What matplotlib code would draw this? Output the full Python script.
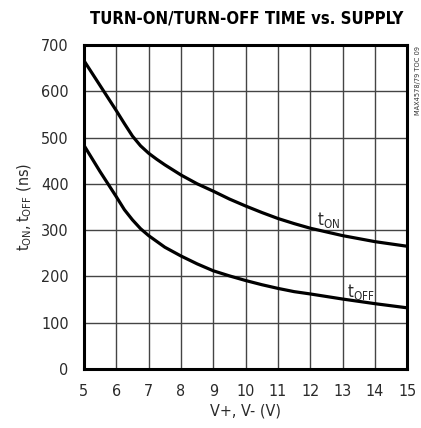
import matplotlib
matplotlib.use("Agg")
from matplotlib import pyplot as plt

plt.rcParams['font.family'] = ['DejaVu Sans']
plt.rcParams['font.stretch'] = 'condensed'
plt.rcParams['mathtext.fontset'] = 'custom'
plt.rcParams['mathtext.rm'] = 'DejaVu Sans:stretch=condensed'

# supply voltage (V)
supply = [5, 5.5, 6, 6.25, 6.5, 6.75, 7, 7.25, 7.5, 8, 8.5, 9, 9.5, 10, 10.5, 11, 11.5, 12, 13, 14, 15]
# turn-on time (ns)
t_on = [666, 612, 558, 530, 503, 482, 466, 453, 441, 419, 400, 384, 367, 352, 338, 325, 314, 304, 288, 275, 265]
# supply voltage (V) for turn-off curve
supply_off = [5, 5.5, 6, 6.25, 6.5, 6.75, 7, 7.5, 8, 8.5, 9, 9.5, 10, 10.5, 11, 11.5, 12, 13, 14, 15]
# turn-off time (ns)
t_off = [483, 426, 372, 344, 322, 303, 288, 263, 244, 227, 212, 201, 191, 182, 174, 167, 162, 151, 141, 132]

fig = plt.figure(figsize=(4.21, 4.28), dpi=100)
ax = fig.add_axes([0.1995, 0.138, 0.768, 0.757])

ax.plot(supply, t_on, color='black', lw=2.3, solid_capstyle='butt')
ax.plot(supply_off, t_off, color='black', lw=2.3, solid_capstyle='butt')

ax.set_xlim(5, 15)
ax.set_ylim(0, 700)
ax.set_xticks(range(5, 16))
ax.set_yticks(range(0, 701, 100))
ax.grid(True, color='#444444', lw=1.0)
ax.tick_params(axis='x', length=0, pad=11, labelsize=11.5, labelcolor='#2a2a2a')
ax.tick_params(axis='y', length=0, pad=11, labelsize=11.5, labelcolor='#2a2a2a')
for s in ax.spines.values():
    s.set_linewidth(2.2)

ax.text(12.22, 312, r'$\mathregular{t_{ON}}$', fontsize=12, color='#2a2a2a')
ax.text(13.12, 155, r'$\mathregular{t_{OFF}}$', fontsize=12, color='#2a2a2a')

ax.set_xlabel('V+, V- (V)', fontsize=11.5, labelpad=3, color='#2a2a2a')
ax.set_ylabel(r'$\mathregular{t_{ON}, t_{OFF}}$ (ns)', fontsize=11.5, labelpad=5, color='#2a2a2a')

fig.text(0.585, 0.956, 'TURN-ON/TURN-OFF TIME vs. SUPPLY', ha='center', va='center',
         fontsize=12, fontweight='bold')
fig.text(0.994, 0.811, 'MAX4578/79 TOC 09', rotation=90, ha='center', va='center',
         fontsize=5.3, color='#333333')

plt.savefig('out.png', dpi=100)
